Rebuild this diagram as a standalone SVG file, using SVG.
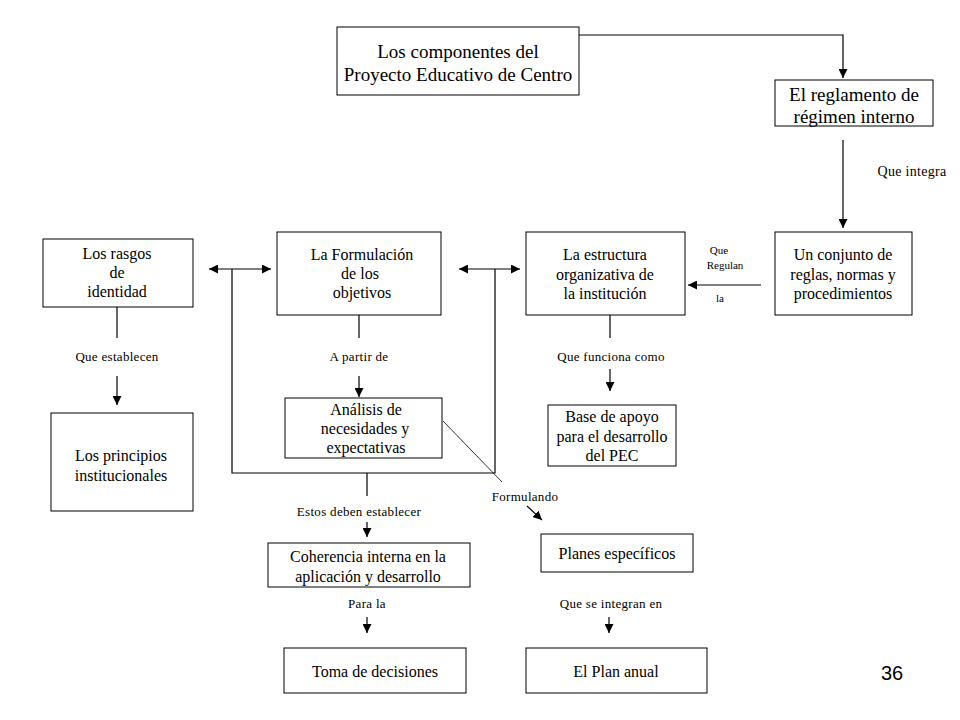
<svg xmlns="http://www.w3.org/2000/svg" width="960" height="720" viewBox="0 0 960 720">
<style>
.box{fill:#fff;stroke:#000;stroke-width:1}
text{font-family:'Liberation Serif','Times New Roman',serif;fill:#000;text-anchor:middle}
.t{font-size:16px}
.tl{font-size:19px}
.lb{font-size:13px;letter-spacing:0.3px}
.ls{font-size:11px}
.c{fill:none;stroke:#000;stroke-width:1.2}
</style>
<defs>
<marker id="ah" viewBox="0 0 10 10" refX="10" refY="5" markerWidth="9" markerHeight="9" markerUnits="userSpaceOnUse" orient="auto-start-reverse">
<path d="M0,0 L10,5 L0,10 z" fill="#000"/>
</marker>
</defs>
<rect width="960" height="720" fill="#fff"/>
<g id="connectors">
<path class="c" d="M579,35 H843 V78" marker-end="url(#ah)"/>
<path class="c" d="M843,140 V228" marker-end="url(#ah)"/>
<path class="c" d="M761,285 H688" marker-end="url(#ah)"/>
<path class="c" d="M209,269 H271" marker-start="url(#ah)" marker-end="url(#ah)"/>
<path class="c" d="M459,269 H520" marker-start="url(#ah)" marker-end="url(#ah)"/>
<path class="c" d="M232,269 V473 H495 V269"/>
<path class="c" d="M117,300 V338"/>
<path class="c" d="M117,376 V405" marker-end="url(#ah)"/>
<path class="c" d="M359,315 V338"/>
<path class="c" d="M359,376 V397" marker-end="url(#ah)"/>
<path class="c" d="M610,315 V338"/>
<path class="c" d="M610,369 V391" marker-end="url(#ah)"/>
<path class="c" d="M443,421 L502,482" style="stroke-width:0.8"/>
<path class="c" d="M367,473 V496"/>
<path class="c" d="M367,522 V537" marker-end="url(#ah)"/>
<path class="c" d="M527,506 L542,520" marker-end="url(#ah)"/>
<path class="c" d="M367,617 V633" marker-end="url(#ah)"/>
<path class="c" d="M609,617 V633" marker-end="url(#ah)"/>
</g>
<g id="labels">
<text class="lb" x="912" y="176" style="font-size:14px">Que integra</text>
<text class="ls" x="719" y="254">Que</text>
<text class="ls" x="725" y="269">Regulan</text>
<text class="ls" x="720" y="302">la</text>
<text class="lb" x="117" y="361">Que establecen</text>
<text class="lb" x="359" y="361">A partir  de</text>
<text class="lb" x="611" y="361">Que funciona como</text>
<text class="lb" x="359" y="516">Estos deben establecer</text>
<text class="lb" x="525" y="501">Formulando</text>
<text class="lb" x="367" y="608">Para la</text>
<text class="lb" x="611" y="608">Que se integran en</text>
</g>
<g id="n-componentes">
<rect class="box" x="337" y="27" width="242" height="68"/>
<text class="tl" x="458" y="58">Los componentes del</text>
<text class="tl" x="458" y="81">Proyecto Educativo de Centro</text>
</g>
<g id="n-reglamento">
<rect class="box" x="775" y="80" width="158" height="46"/>
<text class="tl" x="854" y="101">El reglamento de</text>
<text class="tl" x="854" y="123">régimen interno</text>
</g>
<g id="n-conjunto">
<rect class="box" x="775" y="232" width="137" height="83"/>
<text class="t" x="843" y="260">Un conjunto de</text>
<text class="t" x="843" y="280">reglas, normas y</text>
<text class="t" x="843" y="299">procedimientos</text>
</g>
<g id="n-estructura">
<rect class="box" x="526" y="232" width="159" height="83"/>
<text class="t" x="605" y="260">La estructura</text>
<text class="t" x="605" y="280">organizativa de</text>
<text class="t" x="605" y="299">la institución</text>
</g>
<g id="n-formulacion">
<rect class="box" x="277" y="232" width="164" height="83"/>
<text class="t" x="362" y="260">La Formulación</text>
<text class="t" x="360" y="279">de los</text>
<text class="t" x="362" y="298">objetivos</text>
</g>
<g id="n-rasgos">
<rect class="box" x="43" y="239" width="150" height="68"/>
<text class="t" x="117" y="259">Los rasgos</text>
<text class="t" x="117" y="278">de</text>
<text class="t" x="117" y="297">identidad</text>
</g>
<g id="n-principios">
<rect class="box" x="51" y="413" width="142" height="98"/>
<text class="t" x="121" y="461">Los principios</text>
<text class="t" x="121" y="481">institucionales</text>
</g>
<g id="n-analisis">
<rect class="box" x="285" y="398" width="157" height="60"/>
<text class="t" x="366" y="415">Análisis de</text>
<text class="t" x="365" y="434">necesidades y</text>
<text class="t" x="366" y="453">expectativas</text>
</g>
<g id="n-base">
<rect class="box" x="548" y="405" width="128" height="61"/>
<text class="t" x="612" y="422">Base de apoyo</text>
<text class="t" x="612" y="442">para el desarrollo</text>
<text class="t" x="612" y="461">del PEC</text>
</g>
<g id="n-coherencia">
<rect class="box" x="268" y="543" width="202" height="44"/>
<text class="t" x="368" y="562">Coherencia interna en la</text>
<text class="t" x="368" y="582">aplicación y desarrollo</text>
</g>
<g id="n-planes">
<rect class="box" x="541" y="534" width="152" height="38"/>
<text class="t" x="617" y="559">Planes específicos</text>
</g>
<g id="n-toma">
<rect class="box" x="284" y="648" width="182" height="45"/>
<text class="t" x="375" y="677">Toma de decisiones</text>
</g>
<g id="n-plananual">
<rect class="box" x="526" y="648" width="181" height="45"/>
<text class="t" x="616" y="677">El Plan anual</text>
</g>
<text x="892" y="680" style="font-family:'Liberation Sans',sans-serif;font-size:20px">36</text>
</svg>
